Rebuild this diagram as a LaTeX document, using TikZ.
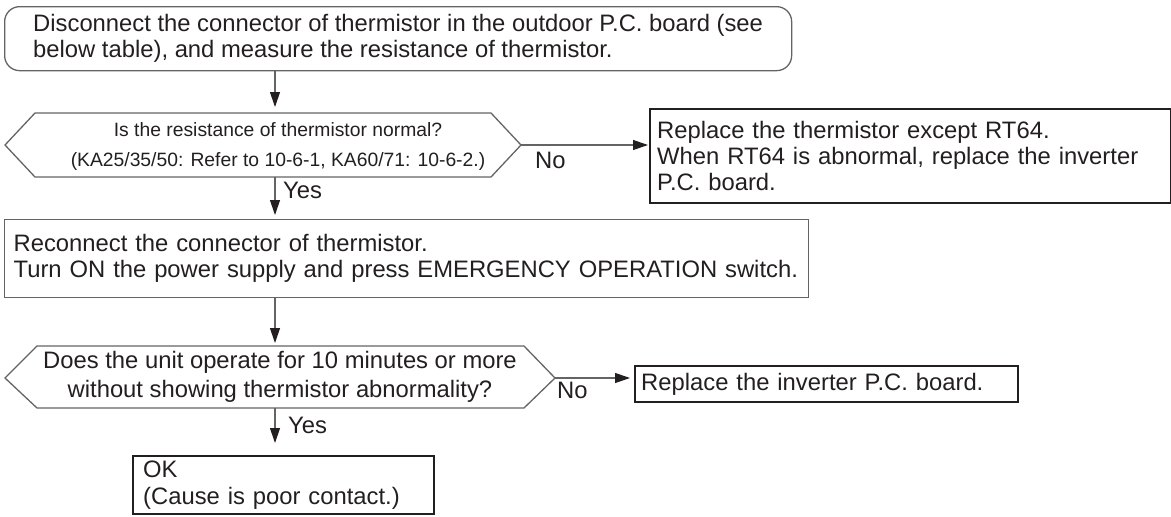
\documentclass[tikz,border=0pt]{standalone}
\usepackage{fontspec}
\setmainfont{Liberation Sans}
\usetikzlibrary{calc, positioning}
\usetikzlibrary{arrows.meta}

\definecolor{linegray}{RGB}{100,100,100}
\definecolor{inkgray}{RGB}{35,31,32}

\begin{document}
\begin{tikzpicture}[x=1pt, y=-1pt,
  every node/.style={font=\fontsize{23.8}{26}\selectfont, text=inkgray},
  thinline/.style={draw=linegray, line width=1.3pt},
  thinbox/.style={thinline, anchor=north west, align=left, inner ysep=0pt},
  boldbox/.style={draw=inkgray, line width=2.4pt, anchor=north west, align=left, inner ysep=0pt},
  flow/.style={draw=linegray, line width=1.2pt, -{Triangle[length=15pt, width=10pt, color=inkgray]}},
  answer/.style={inner sep=0pt, anchor=base west}]
\useasboundingbox (0,0) rectangle (1171,517);

\coordinate (colx) at (275,0);

\coordinate (q1w) at (5,145);
\coordinate (q1e) at (521,145);
\coordinate (q1n) at (275,113);
\coordinate (q1s) at (275,177);

\coordinate (q2w) at (5,378);
\coordinate (q2e) at (555,378);
\coordinate (q2n) at (275,346);
\coordinate (q2s) at (275,408);

\node[thinbox, rounded corners=15pt, minimum width=787pt, minimum height=64pt] (start) at (4,6)
  {Disconnect the connector of thermistor in the outdoor P.C. board (see\\below table), and measure the resistance of thermistor.};

\draw[thinline] (q1w) -- (35,113) -- (491,113) -- (q1e) -- (491,177) -- (35,177) -- cycle;
\node[font=\fontsize{19.3}{30}\selectfont, align=center] (q1) at (278,147)
  {Is the resistance of thermistor normal?\\(KA25/35/50: Refer to 10-6-1, KA60/71: 10-6-2.)};

\node[boldbox, minimum width=521pt, minimum height=94pt, text width=507pt, inner xsep=7pt] (fix1) at (649,108)
  {Replace the thermistor except RT64.\\When RT64 is abnormal, replace the inverter\\P.C. board.};

\node[thinbox, minimum width=804pt, minimum height=78pt, text width=786pt, inner xsep=9pt] (check) at (4,219)
  {Reconnect the connector of thermistor.\\Turn ON the power supply and press EMERGENCY OPERATION switch.};

\draw[thinline] (q2w) -- (37,346) -- (524,346) -- (q2e) -- (524,408) -- (37,408) -- cycle;
\node[font=\fontsize{23.8}{29}\selectfont, align=center] (q2) at (280,377)
  {Does the unit operate for 10 minutes or more\\without showing thermistor abnormality?};

\node[boldbox, minimum width=383pt, minimum height=36pt, text width=371pt, inner xsep=6pt] (fix2) at (634,365)
  {Replace the inverter P.C. board.};

\node[boldbox, minimum width=301pt, minimum height=58pt, text width=281pt, inner xsep=10pt,
  font=\fontsize{23.8}{27}\selectfont] (ok) at (132,455)
  {OK\\(Cause is poor contact.)};

\draw[flow, shorten >=6pt] (start.south -| colx) -- (q1n);
\draw[flow, shorten >=1pt] (q1e) -- (fix1.west |- q1e);
\node[answer] (no1) at (535,168) {No};
\draw[flow, shorten >=4pt] (q1s) -- (check.north -| colx);
\node[answer] (yes1) at (283,198) {Yes};

\draw[flow, shorten >=3pt] (check.south -| colx) -- (q2n);
\draw[flow, shorten >=4pt] (q2e) -- (fix2.west |- q2e);
\node[answer] (no2) at (557,398) {No};
\draw[flow, shorten >=12pt] (q2s) -- (ok.north -| colx);
\node[answer] (yes2) at (288,433) {Yes};
\end{tikzpicture}
\end{document}
